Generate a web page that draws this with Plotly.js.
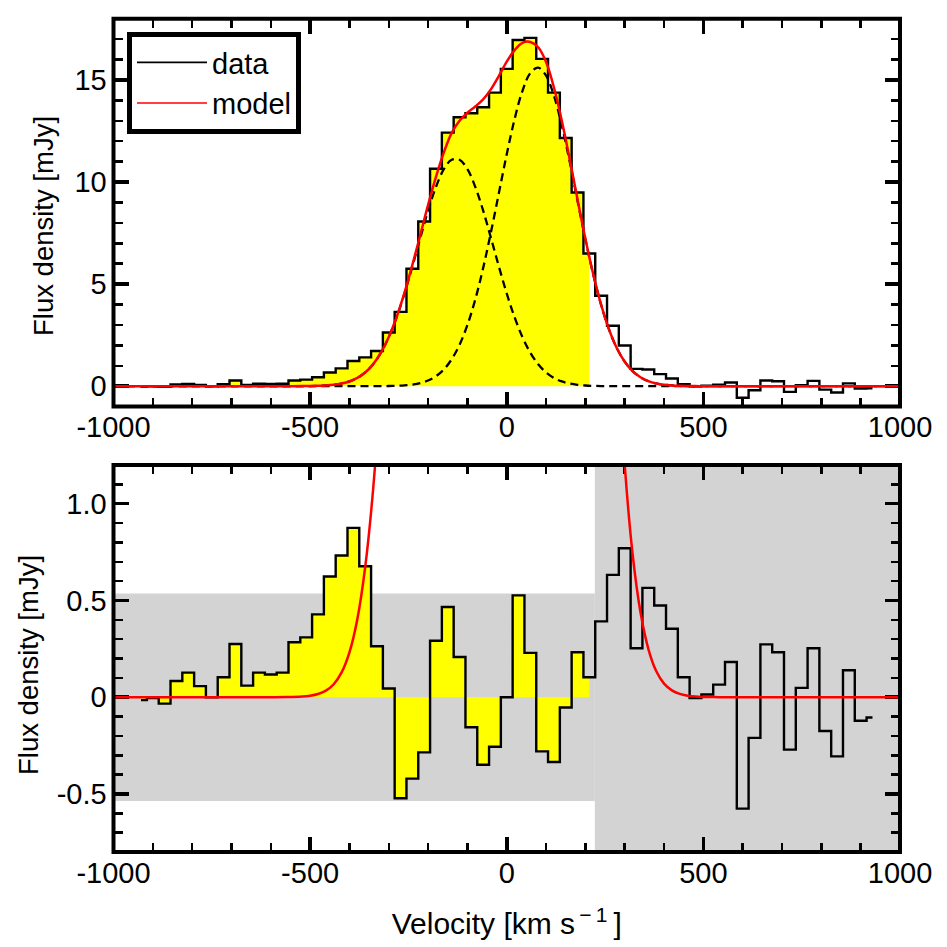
<!DOCTYPE html>
<html><head><meta charset="utf-8">
<script src="https://cdn.plot.ly/plotly-3.0.1.min.js"></script>
<style>html,body{margin:0;padding:0;background:#fff}</style></head>
<body><div id="chart" style="width:947px;height:947px"></div>
<script>
const velocity = [-930,-900,-870,-840,-810,-780,-750,-720,-690,-660,-630,-600,-570,-540,-510,-480,-450,-420,-390,-360,-330,-300,-270,-240,-210,-180,-150,-120,-90,-60,-30,0,30,60,90,120,150,180,210,240,270,300,330,360,390,420,450,480,510,540,570,600,630,660,690,720,750,780,810,840,870,900,930];
const fluxTop = [-0.02,-0.01,-0.03,0.08,0.11,0.06,0,0.1,0.28,0.06,0.12,0.11,0.12,0.28,0.32,0.44,0.67,0.87,1.23,1.41,1.72,2.63,3.64,5.75,8.07,10.65,12.42,13.17,13.37,13.66,14.38,15.54,16.96,17.06,16.03,14.38,12.16,9.49,6.5,4.43,2.96,1.99,0.85,0.82,0.59,0.38,0.1,0,0.02,0.07,0.18,-0.57,-0.2,0.28,0.24,-0.28,0.05,0.26,-0.17,-0.31,0.14,-0.11,-0.1];
const fluxBottom = [-0.015,-0.005,-0.033,0.084,0.127,0.057,0,0.103,0.275,0.06,0.127,0.117,0.127,0.284,0.309,0.428,0.624,0.732,0.875,0.677,0.263,0.045,-0.522,-0.421,-0.285,0.292,0.466,0.208,-0.155,-0.349,-0.256,0,0.526,0.229,-0.28,-0.335,-0.053,0.232,0.103,0.392,0.632,0.77,0.253,0.565,0.474,0.354,0.103,-0.005,0.014,0.065,0.182,-0.576,-0.21,0.273,0.232,-0.271,0.048,0.253,-0.175,-0.306,0.139,-0.122,-0.105];
const fillVelocity = velocity.slice(0,39);
const modelVelocity = [-1000,-600,-560,-520,-500,-480,-460,-440,-420,-400,-380,-360,-340,-320,-300,-280,-260,-240,-220,-200,-180,-160,-140,-120,-100,-80,-60,-40,-20,0,20,40,60,80,100,120,140,160,180,200,220,240,260,280,300,320,340,360,380,400,420,440,460,480,500,520,540,600,1000];
const model = [0,0,0.0006,0.0035,0.0077,0.0166,0.034,0.067,0.128,0.232,0.403,0.672,1.07,1.64,2.41,3.39,4.58,5.94,7.4,8.88,10.25,11.45,12.41,13.0,13.4,13.7,14.05,14.55,15.2,15.9,16.46,16.82,16.86,16.6,15.88,14.63,13.0,11.13,9.14,7.22,5.48,3.99,2.78,1.86,1.2,0.74,0.44,0.25,0.135,0.07,0.035,0.017,0.008,0.0034,0.0015,0.0006,0.0002,0,0];
const compVelocity = [-1000,-600,-560,-520,-500,-480,-460,-440,-420,-400,-380,-360,-340,-320,-300,-280,-260,-240,-220,-200,-180,-160,-140,-120,-100,-80,-60,-40,-20,0,20,40,60,80,100,120,140,160,180,200,220,240,260,280,300,320,340,360,380,400,420,440,460,480,500,520,540,600,1000];
const compBlue = [0,0,0.0006,0.0035,0.0077,0.0166,0.034,0.067,0.128,0.232,0.403,0.671,1.07,1.64,2.4,3.37,4.54,5.86,7.25,8.6,9.76,10.63,11.09,11.09,10.63,9.76,8.6,7.25,5.86,4.54,3.37,2.4,1.64,1.07,0.671,0.403,0.232,0.128,0.067,0.034,0.0166,0.0077,0.0035,0.0015,0.0006,0,0,0,0,0,0,0,0,0,0,0,0,0,0];
const compRed = [0,0,0,0,0,0,0,0,0,0.0001,0.0003,0.0007,0.002,0.0041,0.0092,0.0198,0.0407,0.081,0.154,0.28,0.486,0.817,1.32,2.03,3.0,4.25,5.79,7.56,9.46,11.36,13.09,14.47,15.34,15.6,15.21,14.23,12.77,11.0,9.07,7.19,5.46,3.98,2.78,1.86,1.2,0.739,0.439,0.248,0.135,0.0705,0.0354,0.017,0.0078,0.0034,0.0015,0.0006,0.0002,0,0];
const xTickVals = [-1000,-500,0,500,1000];
const xTickText = ["-1000","-500","0","500","1000"];
const yTopVals = [0,5,10,15];
const yTopText = ["0","5","10","15"];
const yBotVals = [-0.5,0,0.5,1];
const yBotText = ["-0.5","0","0.5","1.0"];
const sigmaLevel = 0.536;
const maskEdge = 224;

const F = 'Liberation Sans, Arial, sans-serif';
const W = 947;
const TICKSIZE = 29;
function axisCommon(){
  return {showgrid:false,zeroline:false,showline:true,linecolor:'#000',linewidth:1,mirror:'allticks',
    ticks:'inside',ticklen:15,tickwidth:3.5,tickcolor:'#000',tickmode:'array',
    tickfont:{family:F,size:TICKSIZE,color:'#000'},automargin:false,layer:'below traces'};
}
function minorTicks(step){ return {ticks:'inside',dtick:step,ticklen:9,tickwidth:2.5,tickcolor:'#000'}; }
const dashStyle = {color:'#000',width:2.3,dash:'8px,5px',shape:'spline',simplify:false};
const traces = [
 {x:fillVelocity,y:fluxTop.slice(0,39),xaxis:'x',yaxis:'y',mode:'lines',line:{shape:'hvh',width:0,color:'#ffff00'},fill:'tozeroy',fillcolor:'#ffff00',showlegend:false,hoverinfo:'skip'},
 {x:compVelocity,y:compBlue,xaxis:'x',yaxis:'y',mode:'lines',line:dashStyle,showlegend:false,name:'blue component'},
 {x:compVelocity,y:compRed,xaxis:'x',yaxis:'y',mode:'lines',line:dashStyle,showlegend:false,name:'red component'},
 {x:velocity,y:fluxTop,xaxis:'x',yaxis:'y',mode:'lines',line:{color:'#000',width:2.4,shape:'hvh',simplify:false},showlegend:false,name:'data'},
 {x:modelVelocity,y:model,xaxis:'x',yaxis:'y',mode:'lines',line:{color:'#ff0000',width:2.5,shape:'spline',simplify:false},showlegend:false,name:'model'},
 {x:fillVelocity,y:fluxBottom.slice(0,39),xaxis:'x2',yaxis:'y2',mode:'lines',line:{shape:'hvh',width:0,color:'#ffff00'},fill:'tozeroy',fillcolor:'#ffff00',showlegend:false,hoverinfo:'skip'},
 {x:velocity,y:fluxBottom,xaxis:'x2',yaxis:'y2',mode:'lines',line:{color:'#000',width:2.4,shape:'hvh',simplify:false},showlegend:false,name:'residual'},
 {x:modelVelocity,y:model,xaxis:'x2',yaxis:'y2',mode:'lines',line:{color:'#ff0000',width:2.5,shape:'spline',simplify:false},showlegend:false,name:'model'},
 {x:[null],y:[null],xaxis:'x',yaxis:'y',mode:'lines',line:{color:'#000',width:1.6},name:'data'},
 {x:[null],y:[null],xaxis:'x',yaxis:'y',mode:'lines',line:{color:'#ff0000',width:1.6},name:'model'}
];
function frame(x0,x1,y0,y1){
  return {type:'rect',xref:'paper',yref:'paper',x0:x0/W,x1:x1/W,y0:1-y0/W,y1:1-y1/W,line:{color:'#000',width:4},fillcolor:'rgba(0,0,0,0)',layer:'above'};
}
const layout = {
 width:W,height:W,autosize:false,margin:{l:0,r:0,t:0,b:0},paper_bgcolor:'#fff',plot_bgcolor:'#fff',
 font:{family:F,size:TICKSIZE,color:'#000'},
 xaxis:Object.assign(axisCommon(),{domain:[113.5/W,900/W],range:[-1000,1000],anchor:'y',tickvals:xTickVals,ticktext:xTickText,ticklabelstandoff:-5,minor:minorTicks(100)}),
 yaxis:Object.assign(axisCommon(),{domain:[1-406.6/W,1-18.7/W],range:[-1,18],anchor:'x',tickvals:yTopVals,ticktext:yTopText,minor:minorTicks(1)}),
 xaxis2:Object.assign(axisCommon(),{domain:[113.5/W,900/W],range:[-1000,1000],anchor:'y2',tickvals:xTickVals,ticktext:xTickText,ticklabelstandoff:-5,minor:minorTicks(100),
   title:{text:'Velocity [km s<sup>\u2009\u2212\u20091</sup>\u2009]',font:{family:F,size:30,color:'#000'},standoff:25}}),
 yaxis2:Object.assign(axisCommon(),{domain:[1-852/W,1-465/W],range:[-0.8,1.2],anchor:'x2',tickvals:yBotVals,ticktext:yBotText,minor:minorTicks(0.1)}),
 shapes:[
  {type:'rect',xref:'x2',yref:'y2',x0:-1000,x1:maskEdge,y0:-sigmaLevel,y1:sigmaLevel,fillcolor:'#d3d3d3',line:{width:0},layer:'below'},
  {type:'rect',xref:'x2',yref:'y2',x0:maskEdge,x1:1000,y0:-0.8,y1:1.2,fillcolor:'#d3d3d3',line:{width:0},layer:'below'},
  frame(113.5,900,18.7,406.6),
  frame(113.5,900,465,852)
 ],
 annotations:[
  {xref:'paper',yref:'paper',x:43/W,y:1-226/W,xanchor:'center',yanchor:'middle',textangle:-90,showarrow:false,text:'Flux density [mJy]',font:{family:F,size:27.5,color:'#000'}},
  {xref:'paper',yref:'paper',x:28/W,y:1-665/W,xanchor:'center',yanchor:'middle',textangle:-90,showarrow:false,text:'Flux density [mJy]',font:{family:F,size:27.5,color:'#000'}}
 ],
 legend:{x:127/W,y:1-32/W,xref:'paper',yref:'paper',xanchor:'left',yanchor:'top',bgcolor:'#fff',bordercolor:'#000',borderwidth:5,
   font:{family:F,size:29,color:'#000'},itemwidth:70,entrywidth:107,entrywidthmode:'pixels',tracegroupgap:0}
};
Plotly.newPlot('chart',traces,layout,{displayModeBar:false,staticPlot:true});
</script></body></html>
